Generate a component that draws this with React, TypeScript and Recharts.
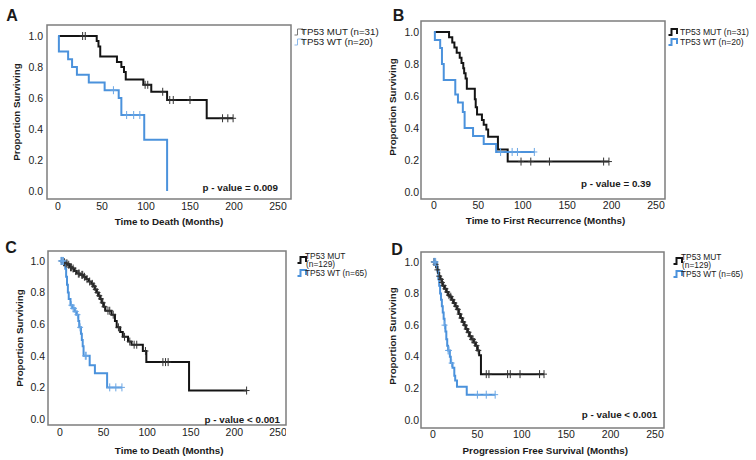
import React from 'react';
import { ComposedChart, Line, Scatter, XAxis, YAxis } from 'recharts';

const FONT = '"Liberation Sans", Arial, Helvetica, sans-serif';
const BLACK = '#141414';
const BLUE = '#4b92dc';

const X_TICKS = [0, 50, 100, 150, 200, 250];
const Y_TICKS = [0, 0.2, 0.4, 0.6, 0.8, 1.0];

// ---------- Panel A : Time to Death (n=31 / n=20)
const A_MUT_TIME = [0, 44, 46, 48, 67, 72, 75, 77, 97, 106, 124, 169, 199];
const A_MUT_SURV = [1.0, 0.967, 0.933, 0.867, 0.833, 0.8, 0.767, 0.72, 0.685, 0.64, 0.587, 0.469, 0.469];
const A_MUT_CENS = [28, 31, 99, 102, 119, 127, 131, 150, 187, 193, 199];
const A_WT_TIME = [0, 1, 11.5, 16, 21.5, 35, 53, 69, 72, 98, 124];
const A_WT_SURV = [1.0, 0.9, 0.85, 0.8, 0.75, 0.7, 0.65, 0.6, 0.49, 0.33, 0.0];
const A_WT_CENS = [63, 78, 86, 93];

// ---------- Panel B : Time to First Recurrence (n=31 / n=20)
const B_MUT_TIME = [0, 17, 20.6, 23, 25.6, 29, 31, 33, 34, 35.6, 37, 46, 47, 48.5, 54, 56, 59, 61, 72, 83, 197];
const B_MUT_SURV = [1.0, 0.968, 0.935, 0.903, 0.871, 0.839, 0.806, 0.774, 0.742, 0.71, 0.645, 0.58, 0.53, 0.485, 0.45, 0.42, 0.39, 0.345, 0.265, 0.19, 0.19];
const B_MUT_CENS = [98, 109, 130, 191, 197];
const B_WT_TIME = [0, 1, 7, 9, 11, 24, 27, 32.5, 34.5, 44, 56, 70, 113];
const B_WT_SURV = [1.0, 0.95, 0.9, 0.8, 0.7, 0.61, 0.56, 0.5, 0.4, 0.35, 0.3, 0.25, 0.25];
const B_WT_CENS = [75, 88, 94, 113];

// ---------- Panel C : Time to Death (n=129 / n=65)
const C_MUT_TIME = [0, 3, 6, 9, 11, 14, 16, 19, 23, 27, 30, 33, 36, 38, 40, 42, 44, 46, 48, 50, 52, 59, 63, 65, 69, 72, 78, 82, 95, 99, 148, 214];
const C_MUT_SURV = [1.0, 0.992, 0.984, 0.976, 0.96, 0.952, 0.936, 0.92, 0.912, 0.9, 0.885, 0.87, 0.855, 0.84, 0.82, 0.8, 0.78, 0.76, 0.735, 0.71, 0.685, 0.66, 0.62, 0.58, 0.55, 0.52, 0.49, 0.47, 0.43, 0.36, 0.18, 0.18];
const C_MUT_CENS = [2, 4, 5, 7, 8, 10, 12, 13, 15, 18, 21, 22, 25, 26, 28, 31, 34, 37, 39, 41, 43, 45, 47, 49, 51, 55, 57, 61, 67, 74, 80, 85, 88, 98, 118, 121, 124, 214];
const C_WT_TIME = [0, 5, 6, 7, 8, 9, 10, 12, 14, 17, 19, 21, 22, 24, 25, 26, 27, 34, 40, 54, 71];
const C_WT_SURV = [1.0, 0.985, 0.95, 0.9, 0.85, 0.8, 0.76, 0.72, 0.7, 0.68, 0.66, 0.62, 0.58, 0.54, 0.5, 0.46, 0.4, 0.34, 0.29, 0.2, 0.2];
const C_WT_CENS = [1, 2, 3, 4, 13, 15, 16, 18, 20, 23, 29, 30, 57, 64, 71];

// ---------- Panel D : Progression Free Survival (n=129 / n=65)
const D_MUT_TIME = [0, 3, 4, 5, 6, 7, 8, 10, 11, 13, 15, 17, 19, 21, 23, 25, 27, 29, 31, 33, 35, 37, 39, 41, 43, 46, 48, 50, 52, 54, 125];
const D_MUT_SURV = [1.0, 0.985, 0.97, 0.95, 0.93, 0.91, 0.89, 0.87, 0.85, 0.83, 0.81, 0.79, 0.78, 0.76, 0.74, 0.72, 0.7, 0.67, 0.645, 0.62, 0.6, 0.575, 0.555, 0.53, 0.51, 0.49, 0.47, 0.44, 0.41, 0.29, 0.29];
const D_MUT_CENS = [1, 2, 3, 5, 7, 9, 10, 12, 14, 16, 18, 20, 22, 24, 26, 28, 30, 32, 34, 36, 38, 40, 42, 44, 45, 47, 49, 51, 60, 63, 84, 87, 98, 120, 125];
const D_WT_TIME = [0, 4, 5, 6, 7, 8, 9, 10, 11, 12, 13, 14, 15, 16, 17, 19, 20, 22, 24, 25, 27, 38, 70];
const D_WT_SURV = [1.0, 0.97, 0.94, 0.89, 0.85, 0.8, 0.76, 0.72, 0.68, 0.64, 0.6, 0.56, 0.51, 0.47, 0.44, 0.4, 0.36, 0.33, 0.28, 0.25, 0.21, 0.16, 0.16];
const D_WT_CENS = [1, 2, 3, 13, 17, 18, 21, 50, 60, 70];

type Row = { t: number; s: number };

function steps(times: number[], surv: number[]): Row[] {
  return times.map((t, i) => ({ t, s: surv[i] }));
}
function survAt(times: number[], surv: number[], t: number): number {
  let v = surv[0];
  for (let i = 0; i < times.length; i++) if (times[i] <= t) v = surv[i];
  return v;
}
function censors(times: number[], surv: number[], cens: number[]): Row[] {
  return cens.map((t) => ({ t, s: survAt(times, surv, t) }));
}

const makeMark = (color: string) => (props: any) => {
  const { cx, cy } = props;
  if (cx == null || cy == null) return <g />;
  return (
    <path
      d={`M${cx},${cy - 4}V${cy + 4}M${cx - 3},${cy}H${cx + 3}`}
      stroke={color}
      strokeWidth={1}
      fill="none"
    />
  );
};
const BlackMark = makeMark('#333');
const BlueMark = makeMark('#6aa6e4');

type PanelCfg = {
  letter: string;
  letterPos: [number, number];
  frame: { l: number; r: number; t: number; b: number };
  xDomain: [number, number];
  yDomain: [number, number];
  xTickMargin: number;
  yTickMargin: number;
  mut: { time: number[]; surv: number[]; cens: number[] };
  wt: { time: number[]; surv: number[]; cens: number[] };
  xTitle: string;
  xTitlePos: [number, number];
  yTitlePos: [number, number];
  pText: string;
  pPos: [number, number];
  legend: {
    iconX: number;
    textX: number;
    font: number;
    thin: boolean;
    mutLines: string[];
    mutY: number[];
    mutIconY: number;
    wtText: string;
    wtY: number;
  };
};

const PANELS: PanelCfg[] = [
  {
    letter: 'A',
    letterPos: [12, 15.5],
    frame: { l: 47, r: 291, t: 25, b: 199 },
    xDomain: [-12.5, 264.8],
    yDomain: [-0.052, 1.071],
    xTickMargin: 4,
    yTickMargin: 4,
    mut: { time: A_MUT_TIME, surv: A_MUT_SURV, cens: A_MUT_CENS },
    wt: { time: A_WT_TIME, surv: A_WT_SURV, cens: A_WT_CENS },
    xTitle: 'Time to Death (Months)',
    xTitlePos: [169, 222],
    yTitlePos: [17.3, 111.7],
    pText: 'p - value = 0.009',
    pPos: [278, 187.5],
    legend: {
      iconX: 294, textX: 301, font: 9.7, thin: true,
      mutLines: ['TP53 MUT (n=31)'], mutY: [31.7], mutIconY: 31.7,
      wtText: 'TP53 WT (n=20)', wtY: 41.7,
    },
  },
  {
    letter: 'B',
    letterPos: [398.5, 16],
    frame: { l: 421, r: 665, t: 21, b: 199 },
    xDomain: [-14.6, 260.1],
    yDomain: [-0.044, 1.069],
    xTickMargin: 3,
    yTickMargin: 2,
    mut: { time: B_MUT_TIME, surv: B_MUT_SURV, cens: B_MUT_CENS },
    wt: { time: B_WT_TIME, surv: B_WT_SURV, cens: B_WT_CENS },
    xTitle: 'Time to First Recurrence (Months)',
    xTitlePos: [545.5, 221],
    yTitlePos: [393, 106.7],
    pText: 'p - value = 0.39',
    pPos: [651, 184.3],
    legend: {
      iconX: 668, textX: 680, font: 8.6, thin: false,
      mutLines: ['TP53 MUT (n=31)'], mutY: [31.7], mutIconY: 31.7,
      wtText: 'TP53 WT (n=20)', wtY: 41.7,
    },
  },
  {
    letter: 'C',
    letterPos: [11, 247.5],
    frame: { l: 48, r: 286, t: 251, b: 425 },
    xDomain: [-13.8, 259.2],
    yDomain: [-0.038, 1.063],
    xTickMargin: 4,
    yTickMargin: 3,
    mut: { time: C_MUT_TIME, surv: C_MUT_SURV, cens: C_MUT_CENS },
    wt: { time: C_WT_TIME, surv: C_WT_SURV, cens: C_WT_CENS },
    xTitle: 'Time to Death (Months)',
    xTitlePos: [169.2, 450.5],
    yTitlePos: [20, 338],
    pText: 'p - value < 0.001',
    pPos: [280, 419.7],
    legend: {
      iconX: 297, textX: 305, font: 8.4, thin: false,
      mutLines: ['TP53 MUT', '(n=129)'], mutY: [255.5, 264], mutIconY: 260,
      wtText: 'TP53 WT (n=65)', wtY: 272.5,
    },
  },
  {
    letter: 'D',
    letterPos: [397, 249.5],
    frame: { l: 421, r: 664, t: 252, b: 428 },
    xDomain: [-13.5, 260.1],
    yDomain: [-0.051, 1.063],
    xTickMargin: 3,
    yTickMargin: 2,
    mut: { time: D_MUT_TIME, surv: D_MUT_SURV, cens: D_MUT_CENS },
    wt: { time: D_WT_TIME, surv: D_WT_SURV, cens: D_WT_CENS },
    xTitle: 'Progression Free Survival (Months)',
    xTitlePos: [545.3, 450.5],
    yTitlePos: [393, 336],
    pText: 'p - value < 0.001',
    pPos: [657.3, 414.7],
    legend: {
      iconX: 673, textX: 681, font: 8.4, thin: false,
      mutLines: ['TP53 MUT', '(n=129)'], mutY: [256.5, 265], mutIconY: 261,
      wtText: 'TP53 WT (n=65)', wtY: 273.5,
    },
  },
];

const YW = 40;
const XH = 26;

function LegendIcon({ x, y, color, thin }: { x: number; y: number; color: string; thin: boolean }) {
  return (
    <svg
      width={12}
      height={10}
      style={{ position: 'absolute', left: x, top: y - 5, overflow: 'visible' }}
    >
      <path
        d="M0.5,8 H3.5 V2 H9 V7"
        stroke={thin ? (color === BLACK ? '#777' : '#8bb8ea') : color}
        strokeWidth={thin ? 1 : 2}
        fill="none"
      />
    </svg>
  );
}

function Txt({
  x, y, children, size, bold, anchor = 'middle', rotate = false, lh,
}: {
  x: number; y: number; children: React.ReactNode; size: number; bold?: boolean;
  anchor?: 'start' | 'middle' | 'end'; rotate?: boolean; lh?: number;
}) {
  const tx = anchor === 'start' ? '0%' : anchor === 'end' ? '-100%' : '-50%';
  return (
    <div
      style={{
        position: 'absolute',
        left: x,
        top: y,
        transform: `translate(${tx}, -50%)${rotate ? ' rotate(-90deg)' : ''}`,
        transformOrigin: rotate ? '50% 50%' : undefined,
        fontSize: size,
        lineHeight: `${lh ?? size + 2}px`,
        fontWeight: bold ? 'bold' : 'normal',
        whiteSpace: 'nowrap',
        color: '#1a1a1a',
        fontFamily: FONT,
      }}
    >
      {children}
    </div>
  );
}

function Panel({ cfg }: { cfg: PanelCfg }) {
  const { frame } = cfg;
  const w = frame.r - frame.l;
  const h = frame.b - frame.t;
  const mutRows = steps(cfg.mut.time, cfg.mut.surv);
  const wtRows = steps(cfg.wt.time, cfg.wt.surv);
  const mutCens = censors(cfg.mut.time, cfg.mut.surv, cfg.mut.cens);
  const wtCens = censors(cfg.wt.time, cfg.wt.surv, cfg.wt.cens);
  const tickStyle = { fontSize: 10.5, fill: '#222', fontFamily: FONT };
  const lg = cfg.legend;
  return (
    <>
      <div style={{ position: 'absolute', left: frame.l - YW, top: frame.t }}>
        <ComposedChart width={w + YW} height={h + XH} margin={{ top: 0, right: 0, bottom: 0, left: 0 }}>
          <XAxis
            dataKey="t"
            type="number"
            domain={cfg.xDomain}
            ticks={X_TICKS}
            allowDataOverflow
            interval={0}
            tickLine={false}
            axisLine={false}
            tickSize={0}
            tickMargin={cfg.xTickMargin}
            height={XH}
            tick={tickStyle}
          />
          <YAxis
            dataKey="s"
            type="number"
            domain={cfg.yDomain}
            ticks={Y_TICKS}
            allowDataOverflow
            interval={0}
            tickLine={false}
            axisLine={false}
            tickSize={0}
            tickMargin={cfg.yTickMargin}
            width={YW}
            tickFormatter={(v: number) => v.toFixed(1)}
            tick={tickStyle}
          />
          <Line
            data={mutRows}
            dataKey="s"
            type="stepAfter"
            stroke={BLACK}
            strokeWidth={2}
            dot={false}
            activeDot={false}
            isAnimationActive={false}
          />
          <Line
            data={wtRows}
            dataKey="s"
            type="stepAfter"
            stroke={BLUE}
            strokeWidth={2}
            dot={false}
            activeDot={false}
            isAnimationActive={false}
          />
          <Scatter data={mutCens} dataKey="s" shape={BlackMark} isAnimationActive={false} />
          <Scatter data={wtCens} dataKey="s" shape={BlueMark} isAnimationActive={false} />
        </ComposedChart>
      </div>
      <svg
        width={w + 2}
        height={h + 2}
        style={{ position: 'absolute', left: frame.l - 1, top: frame.t - 1, pointerEvents: 'none' }}
      >
        <rect x={1} y={1} width={w} height={h} fill="none" stroke="#7d7d7d" strokeWidth={1.5} />
      </svg>
      <Txt x={cfg.letterPos[0]} y={cfg.letterPos[1]} size={16} bold>
        {cfg.letter}
      </Txt>
      <Txt x={cfg.xTitlePos[0]} y={cfg.xTitlePos[1]} size={9.8} bold>
        {cfg.xTitle}
      </Txt>
      <Txt x={cfg.yTitlePos[0]} y={cfg.yTitlePos[1]} size={9.8} bold rotate>
        Proportion Surviving
      </Txt>
      <Txt x={cfg.pPos[0]} y={cfg.pPos[1]} size={9.8} bold anchor="end">
        {cfg.pText}
      </Txt>
      <LegendIcon x={lg.iconX} y={lg.mutIconY} color={BLACK} thin={lg.thin} />
      {lg.mutLines.map((s, i) => (
        <Txt
          key={s}
          x={lg.textX + (i > 0 ? 1 : 0)}
          y={lg.mutY[i]}
          size={lg.font}
          anchor="start"
          lh={lg.mutLines.length > 1 ? lg.font : undefined}
        >
          {s}
        </Txt>
      ))}
      <LegendIcon x={lg.iconX} y={lg.wtY} color={BLUE} thin={lg.thin} />
      <Txt
        x={lg.textX}
        y={lg.wtY}
        size={lg.font}
        anchor="start"
        lh={lg.mutLines.length > 1 ? lg.font : undefined}
      >
        {lg.wtText}
      </Txt>
    </>
  );
}

export default function App() {
  return (
    <div
      style={{
        position: 'absolute',
        left: 0,
        top: 0,
        width: 756,
        height: 460,
        background: '#fff',
        overflow: 'hidden',
        fontFamily: FONT,
      }}
    >
      {PANELS.map((p) => (
        <Panel key={p.letter} cfg={p} />
      ))}
    </div>
  );
}
